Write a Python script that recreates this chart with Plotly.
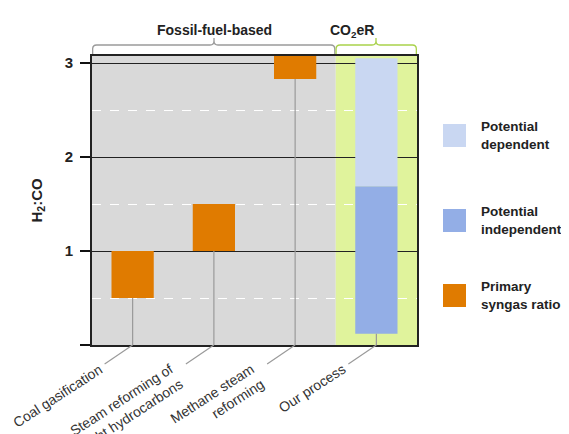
import plotly.graph_objects as go

# ---------------- data ----------------
categories = ["Coal gasification", "Steam reforming of<br>light hydrocarbons",
              "Methane steam<br>reforming", "Our process"]
cat_pos = [0, 1, 2, 3]
primary_low = [0.5, 1.0, 2.83]
primary_high = [1.0, 1.5, 3.2]
indep_low = [0.12]
indep_high = [1.69]
dep_low = [1.69]
dep_high = [3.05]
y_tick_vals = [0, 1, 2, 3]
y_tick_text = ["", "1", "2", "3"]
legend_labels = ["Potential<br>dependent", "Potential<br>independent", "Primary<br>syngas ratio"]

ORANGE = "#E07B00"
DEP = "#C9D7F2"
INDEP = "#93AEE6"
GRAY_BG = "#D9D9D9"
GREEN_BG = "#E0F39C"
GREEN_BR = "#A9D24B"
GRAY_BR = "#9A9A9A"
FONT = "Liberation Sans, Arial, sans-serif"

BAR_W = 0.52

fig = go.Figure()
fig.add_trace(go.Bar(x=cat_pos[:3], y=[h - l for l, h in zip(primary_low, primary_high)],
                     base=primary_low, width=BAR_W, marker=dict(color=ORANGE, line=dict(width=0)),
                     showlegend=False, hoverinfo="skip"))
fig.add_trace(go.Bar(x=cat_pos[3:], y=[h - l for l, h in zip(indep_low, indep_high)],
                     base=indep_low, width=BAR_W, marker=dict(color=INDEP, line=dict(width=0)),
                     showlegend=False, hoverinfo="skip"))
fig.add_trace(go.Bar(x=cat_pos[3:], y=[h - l for l, h in zip(dep_low, dep_high)],
                     base=dep_low, width=BAR_W, marker=dict(color=DEP, line=dict(width=0)),
                     showlegend=False, hoverinfo="skip"))

# layout geometry (page pixels; the page body adds an 8px margin)
OFF = 8
PL, PR, PT, PB = 92, 417, 56, 345  # plot area in page pixels
W, H = 561, 426
L, T = PL - OFF, PT - OFF
pw, ph = PR - PL, PB - PT
R, B = W - L - pw, H - T - ph
unit_px = pw / 4.0


def px_x(px):
    return (px - PL) / pw


def px_y(py):
    return (PB - py) / ph


shapes = []
# backgrounds
shapes.append(dict(type="rect", xref="x", yref="paper", x0=-0.5, x1=2.5, y0=0, y1=1,
                   fillcolor=GRAY_BG, line=dict(width=0), layer="below"))
shapes.append(dict(type="rect", xref="x", yref="paper", x0=2.5, x1=3.5, y0=0, y1=1,
                   fillcolor=GREEN_BG, line=dict(width=0), layer="below"))

bases = primary_low + indep_low
dx = 28 / unit_px
dy = 19 / ph
for i, b in zip(cat_pos, bases):
    shapes.append(dict(type="line", xref="x", yref="y", x0=i, x1=i, y0=0, y1=b,
                       line=dict(color=GRAY_BR, width=1.2), layer="above"))
    shapes.append(dict(type="line", xref="x", yref="paper", x0=i, x1=i - dx, y0=0, y1=-dy,
                       line=dict(color=GRAY_BR, width=1.2)))


# brackets
def bracket(x0, x1, xm, color):
    yt = px_y(45)
    yb = px_y(54)
    ytip = px_y(38)
    cx = 4 / pw
    cy = 4 / ph
    p = (f"M {x0},{yb} L {x0},{yt - cy} Q {x0},{yt} {x0 + cx},{yt} "
         f"L {xm - cx},{yt} Q {xm},{yt} {xm},{yt + cy} L {xm},{ytip} "
         f"M {xm},{yt + cy} Q {xm},{yt} {xm + cx},{yt} "
         f"L {x1 - cx},{yt} Q {x1},{yt} {x1},{yt - cy} L {x1},{yb}")
    return dict(type="path", xref="paper", yref="paper", path=p, line=dict(color=color, width=1.3))


split = 3.0 / 4.0 - 0.003
shapes.append(bracket(0.002, split, px_x(214), GRAY_BR))
shapes.append(bracket(split + 0.004, 0.998, px_x(376), GREEN_BR))

# legend squares
leg_colors = [DEP, INDEP, ORANGE]
leg_centers = [135.5, 220.5, 295.5]
annotations = []
for c, yc, lab in zip(leg_colors, leg_centers, legend_labels):
    shapes.append(dict(type="rect", xref="paper", yref="paper",
                       x0=px_x(443), x1=px_x(466),
                       y0=px_y(yc + 11.5), y1=px_y(yc - 11.5),
                       fillcolor=c, line=dict(width=0)))
    annotations.append(dict(xref="paper", yref="paper", x=px_x(479), y=px_y(yc),
                            text=f"<b>{lab}</b>", showarrow=False, xanchor="left", yanchor="middle",
                            align="left", font=dict(family=FONT, size=13.5, color="#222")))

# category labels
for i, lab in zip(cat_pos, categories):
    annotations.append(dict(xref="x", yref="paper", x=i - dx, y=-dy, xshift=3, yshift=6,
                            text=lab, showarrow=False, textangle=-33, xanchor="right",
                            yanchor="top", align="right",
                            font=dict(family=FONT, size=14, color="#333")))

# group titles
annotations.append(dict(xref="paper", yref="paper", x=px_x(214), y=px_y(20),
                        text="<b>Fossil-fuel-based</b>", showarrow=False,
                        font=dict(family=FONT, size=14, color="#222")))
annotations.append(dict(xref="paper", yref="paper", x=px_x(376), y=px_y(20),
                        text="<b>CO<sub>2</sub>eR</b>", showarrow=False,
                        font=dict(family=FONT, size=14, color="#222")))
# y title
annotations.append(dict(xref="paper", yref="paper", x=px_x(37), y=0.5,
                        text="<b>H<sub>2</sub>:CO</b>", showarrow=False, textangle=-90,
                        xanchor="center", yanchor="middle",
                        font=dict(family=FONT, size=15, color="#222")))

fig.update_layout(
    width=W, height=H,
    margin=dict(l=L, r=R, t=T, b=B),
    paper_bgcolor="white", plot_bgcolor="white",
    barmode="overlay",
    showlegend=False,
    shapes=shapes,
    annotations=annotations,
    xaxis=dict(range=[-0.5, 3.5], showticklabels=False, showgrid=False, zeroline=False,
               showline=True, linecolor="#222", linewidth=1.6, mirror=True, ticks=""),
    yaxis=dict(range=[0, 3.075], tickvals=y_tick_vals, ticktext=y_tick_text,
               ticks="outside", ticklen=10, tickwidth=2, tickcolor="#111",
               showgrid=True, gridcolor="#222", gridwidth=1.3, zeroline=False,
               showline=True, linecolor="#222", linewidth=1.6, mirror=True,
               ticklabelstandoff=4,
               tickfont=dict(family=FONT, size=15, color="#222", weight="bold"),
               minor=dict(tickvals=[0.5, 1.5, 2.5], showgrid=True, gridcolor="white",
                          griddash="dash", gridwidth=1.2, ticks="")),
    font=dict(family=FONT),
)

fig.write_html("out.html")
